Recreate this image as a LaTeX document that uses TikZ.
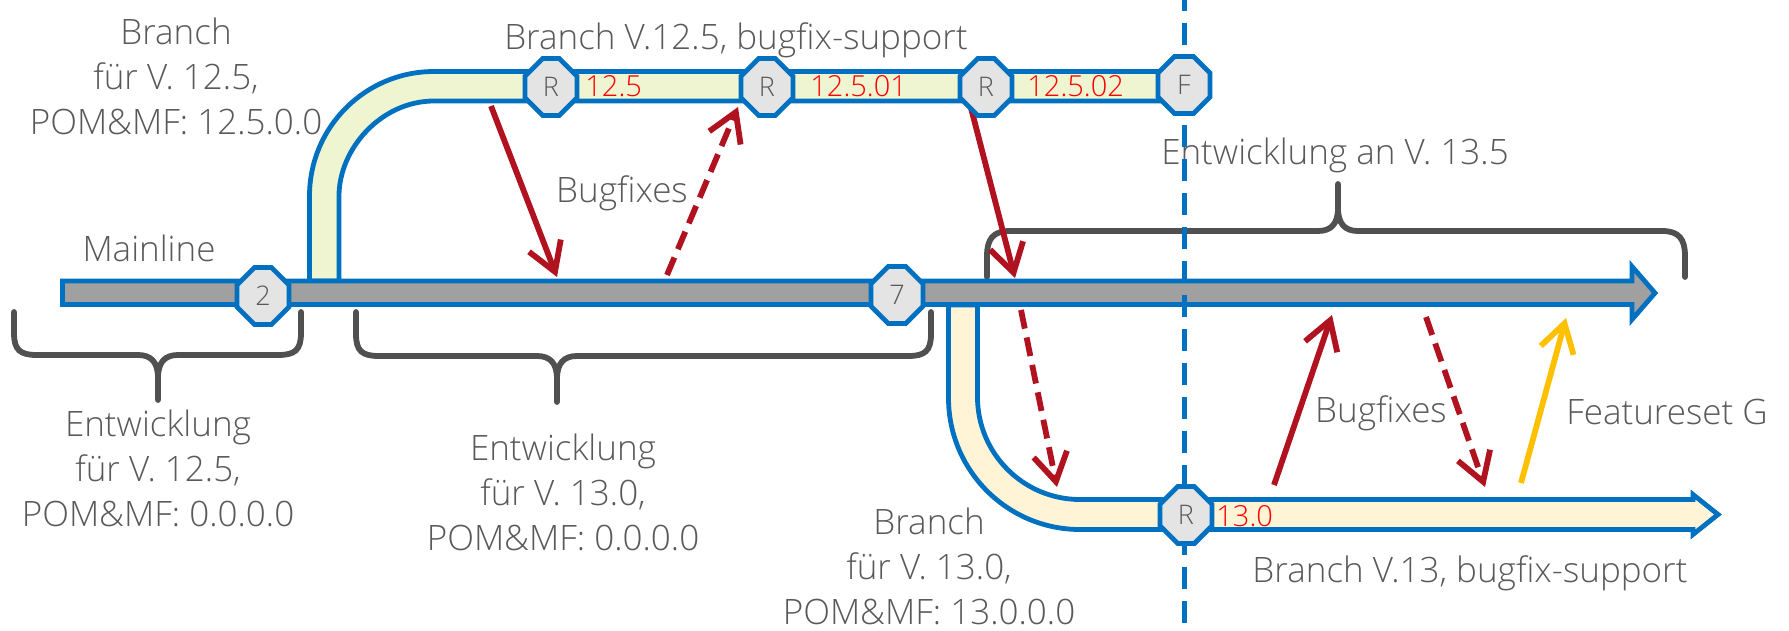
\documentclass[tikz,border=0pt]{standalone}
\usepackage{fontspec}
\setmainfont{Open Sans Light}
\usetikzlibrary{arrows.meta,shapes.misc}

\definecolor{barblue}{HTML}{0070C0}
\definecolor{maingray}{HTML}{A0A0A0}
\definecolor{bandgreen}{HTML}{EFF5D1}
\definecolor{bandyellow}{HTML}{FFF4D6}
\definecolor{nodegray}{HTML}{E4E4E4}
\definecolor{txtgray}{HTML}{595959}
\definecolor{verred}{HTML}{FF0000}
\definecolor{fixred}{HTML}{B01220}
\definecolor{featyellow}{HTML}{FFC000}
\definecolor{bracegray}{HTML}{505050}

\begin{document}
\begin{tikzpicture}[x=0.5pt,y=-0.5pt,
  lbl/.style={text=txtgray, font=\fontsize{17.5}{22.5}\selectfont, align=center, inner sep=0pt},
  ver/.style={text=verred, font=\fontsize{14.5}{17}\selectfont, anchor=west, inner sep=0pt},
  commit/.style={chamfered rectangle, chamfered rectangle xsep=5.5pt, chamfered rectangle ysep=6.5pt,
    draw=barblue, line width=2.4pt, fill=nodegray, minimum width=26pt, minimum height=28.5pt,
    inner sep=0pt, text=txtgray, font=\fontsize{13.5}{15}\selectfont},
  brace/.style={draw=bracegray, line width=2.9pt, line cap=round, line join=round},
  band/.style={draw=barblue, line width=2.4pt},
  fix/.style={draw=fixred, line width=2.9pt, -{Straight Barb[length=14pt,width=17pt]}},
  fixdash/.style={fix, dash pattern=on 9.5pt off 4.5pt},
  feat/.style={fix, draw=featyellow},
  vline/.style={draw=barblue, line width=2.5pt, dash pattern=on 11pt off 6pt, dash phase=5.5pt}
]
\useasboundingbox (0,0) rectangle (1789,631);

% labels
\node[lbl] (t1) at (176,76) {Branch\\für V. 12.5,\\POM\&MF: 12.5.0.0};
\node[lbl] (t2) at (736,40) {Branch V.12.5, bugfix-support};
\node[lbl] (t3) at (149,248) {Mainline};
\node[lbl] (t4) at (622,193) {Bugfixes};
\node[lbl] (t5) at (1335,155) {Entwicklung an V. 13.5};
\node[lbl] (t6) at (158,468) {Entwicklung\\für V. 12.5,\\POM\&MF: 0.0.0.0};
\node[lbl] (t7) at (563,492) {Entwicklung\\für V. 13.0,\\POM\&MF: 0.0.0.0};
\node[lbl] (t8) at (929,566) {Branch\\für V. 13.0,\\POM\&MF: 13.0.0.0};
\node[lbl] (t9) at (1381,413) {Bugfixes};
\node[lbl] (t10) at (1667,412) {Featureset G};
\node[lbl] (t11) at (1470,573) {Branch V.13, bugfix-support};

% braces
\draw[brace] (14,312) -- (14,333) .. controls (14,350) and (20,355) .. (37,355) -- (138,355)
  .. controls (151,355) and (158,362) .. (158,378) -- (158,400);
\draw[brace] (301,312) -- (301,333) .. controls (301,350) and (295,355) .. (278,355) -- (178,355)
  .. controls (165,355) and (158,362) .. (158,378);
\draw[brace] (356,312) -- (356,334) .. controls (356,351) and (362,356) .. (379,356) -- (537,356)
  .. controls (550,356) and (557,363) .. (557,379) -- (557,402);
\draw[brace] (931,312) -- (931,334) .. controls (931,351) and (925,356) .. (908,356) -- (577,356)
  .. controls (564,356) and (557,363) .. (557,379);
\draw[brace] (987,277) -- (987,256) .. controls (987,239) and (993,231) .. (1010,231) -- (1318,231)
  .. controls (1331,231) and (1338,224) .. (1338,208) -- (1338,184);
\draw[brace] (1685,277) -- (1685,256) .. controls (1685,239) and (1679,231) .. (1662,231) -- (1358,231)
  .. controls (1345,231) and (1338,224) .. (1338,208);

% branch V.12.5
\filldraw[band, fill=bandgreen] (309.5,281) -- (309.5,196)
  .. controls (309.5,127.2) and (365.2,71.5) .. (434,71.5) -- (1184,71.5) -- (1184,101) -- (434,101)
  .. controls (381.5,101) and (339,148.5) .. (339,196) -- (339,281) -- cycle;

% branch V.13
\filldraw[band, fill=bandyellow] (948.5,305) -- (948.5,398)
  .. controls (948.5,470.6) and (1007.4,529.5) .. (1080,529.5) -- (1693,529.5) -- (1693,534.5)
  -- (1718,514.5) -- (1693,494.5) -- (1693,499.5) -- (1080,499.5)
  .. controls (1023.4,499.5) and (977.5,453.6) .. (977.5,397) -- (977.5,305) -- cycle;

% mainline
\filldraw[band, fill=maingray] (62.5,281) -- (1632,281) -- (1632,266.5) -- (1655,293)
  -- (1632,319.5) -- (1632,304.5) -- (62.5,304.5) -- cycle;

% merge arrows
\coordinate (a1) at (491,106);  \coordinate (a2) at (557,277);
\coordinate (b1) at (667,275);  \coordinate (b2) at (738,107);
\coordinate (c1) at (971,108);  \coordinate (c2) at (1015,278);
\coordinate (d1) at (1021,310); \coordinate (d2) at (1057,487);
\coordinate (e1) at (1274,485); \coordinate (e2) at (1332,315);
\coordinate (f1) at (1426,317); \coordinate (f2) at (1485,487);
\coordinate (g1) at (1521,483); \coordinate (g2) at (1566,318);
\draw[fix] (a1) -- (a2);
\draw[fixdash] (b1) -- (b2);
\draw[fix] (c1) -- (c2);
\draw[fixdash] (d1) -- (d2);
\draw[fix] (e1) -- (e2);
\draw[fixdash] (f1) -- (f2);
\draw[feat] (g1) -- (g2);

% release cut line
\coordinate (vtop) at (1184,0);
\coordinate (vbot) at (1184,631);
\draw[vline] (vtop) -- (vbot);

% commits
\node[commit] (n2) at (263,296) {2};
\node[commit] (n7) at (897,295) {7};
\node[commit] (r125) at (551,87) {R};
\node[commit] (r12501) at (767,87) {R};
\node[commit] (r12502) at (986,87) {R};
\node[commit] (fin) at (1184,85) {F};
\node[commit] (r130) at (1186,515) {R};

% version numbers
\node[ver] (v125) at (585,86) {12.5};
\node[ver] (v12501) at (810,86) {12.5.01};
\node[ver] (v12502) at (1027,86) {12.5.02};
\node[ver] (v130) at (1216,516) {13.0};
\end{tikzpicture}
\end{document}
